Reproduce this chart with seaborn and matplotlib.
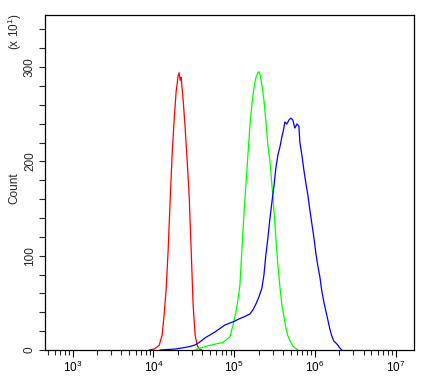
import numpy as np
import pandas as pd
import matplotlib
matplotlib.use("Agg")
import matplotlib.pyplot as plt
import seaborn as sns
from matplotlib.ticker import LogLocator, MultipleLocator, FixedLocator

# ---- data (log10 fluorescence, counts) ----
red_log = [3.947, 4.009, 4.071, 4.108, 4.132, 4.157, 4.182, 4.207, 4.231, 4.256,
           4.281, 4.306, 4.318, 4.331, 4.343, 4.368, 4.392, 4.417, 4.442, 4.467,
           4.491, 4.516, 4.541, 4.566, 4.603]
red_count = [0, 1, 5, 16, 37, 64, 106, 159, 207, 244,
             274, 291, 294, 286, 289, 265, 236, 201, 164, 106,
             48, 16, 5, 1, 0]

green_log = [4.514, 4.576, 4.700, 4.860, 4.947, 4.984, 5.021, 5.046, 5.071, 5.095,
             5.120, 5.145, 5.170, 5.194, 5.219, 5.244, 5.269, 5.293, 5.306, 5.318,
             5.343, 5.368, 5.393, 5.417, 5.442, 5.467, 5.492, 5.517, 5.541, 5.566,
             5.590, 5.615, 5.640, 5.665, 5.690, 5.727, 5.788]
green_count = [0, 2, 5, 8, 14, 26, 40, 53, 69, 106,
               143, 175, 207, 237, 260, 278, 289, 294, 295, 293,
               281, 265, 242, 217, 201, 175, 148, 117, 90, 67,
               48, 36, 23, 15, 10, 4, 0]

blue_log = [4.080, 4.167, 4.266, 4.328, 4.390, 4.452, 4.514, 4.575, 4.637, 4.699,
            4.761, 4.823, 4.885, 4.947, 5.009, 5.071, 5.132, 5.194, 5.231, 5.269,
            5.306, 5.343, 5.368, 5.392, 5.417, 5.442, 5.467, 5.491, 5.516, 5.541,
            5.566, 5.590, 5.615, 5.627, 5.652, 5.677, 5.702, 5.726, 5.751, 5.776,
            5.801, 5.813, 5.838, 5.863, 5.887, 5.912, 5.937, 5.962, 5.986, 6.011,
            6.036, 6.061, 6.085, 6.110, 6.135, 6.160, 6.184, 6.209, 6.234, 6.259,
            6.283, 6.308, 6.333]
blue_count = [0, 0.5, 1, 1.8, 2.7, 3.7, 5.3, 8.5, 12.7, 15.9,
              19.1, 22.8, 26.5, 28.6, 30.7, 33.4, 35.5, 38.2, 42.4, 48.8,
              56.2, 65.7, 79.5, 100.7, 118.7, 138.9, 156.9, 172.8, 192.9, 206.7,
              215.2, 225.7, 235.3, 241.7, 239.6, 243.8, 245.9, 243.8, 235.3, 239.6,
              237.5, 220.5, 206.7, 190.8, 177, 164.3, 148.4, 133.6, 119.8, 102.8,
              89, 77.4, 62.5, 50.9, 41.3, 31.8, 22.3, 14.8, 9.5, 7.4,
              5.3, 2.1, 0]

x_ticks = [1e3, 1e4, 1e5, 1e6, 1e7]
x_tick_labels = [r"$\mathdefault{10^{3}}$", r"$\mathdefault{10^{4}}$", r"$\mathdefault{10^{5}}$",
                 r"$\mathdefault{10^{6}}$", r"$\mathdefault{10^{7}}$"]
y_ticks = [0, 100, 200, 300]
y_tick_labels = ["0", "100", "200", "300"]

series = [("red", red_log, red_count, "#ff0000"),
          ("green", green_log, green_count, "#00ff00"),
          ("blue", blue_log, blue_count, "#0000ff")]

frames = []
for name, xl, yc, _ in series:
    frames.append(pd.DataFrame({"x": np.power(10.0, xl), "count": yc, "series": name}))
df = pd.concat(frames, ignore_index=True)

sns.set_style("ticks")
plt.rcParams["font.family"] = ["Liberation Sans", "DejaVu Sans"]
plt.rcParams["mathtext.fontset"] = "custom"
plt.rcParams["mathtext.rm"] = "Liberation Sans"
plt.rcParams["mathtext.it"] = "Liberation Sans"

fig = plt.figure(figsize=(4.32, 3.80), dpi=100)
ax = fig.add_axes([45/432, 1-350/380, (414-45)/432, (350-15)/380])

sns.lineplot(data=df, x="x", y="count", hue="series", sort=False,
             palette={n: c for n, _, _, c in series}, legend=False,
             linewidth=0.9, estimator=None, ax=ax)

ax.set_xscale("log")
ax.set_xlim(10**2.657, 10**7.2265)
ax.set_ylim(0, 355.2)

ax.xaxis.set_major_locator(FixedLocator(x_ticks))
ax.set_xticklabels(x_tick_labels)
ax.xaxis.set_minor_locator(LogLocator(base=10, subs=np.arange(2, 10)))
ax.xaxis.set_minor_formatter(matplotlib.ticker.NullFormatter())
ax.yaxis.set_major_locator(FixedLocator(y_ticks))
ax.set_yticklabels(y_tick_labels, rotation=90, va="center")
ax.yaxis.set_minor_locator(MultipleLocator(20))

ax.tick_params(axis="x", which="major", length=5, width=0.8, direction="out",
               labelsize=8.5, pad=2, colors="black")
ax.tick_params(axis="x", which="minor", length=3.5, width=0.8, direction="out")
ax.tick_params(axis="y", which="both", length=4.5, width=0.8, direction="out",
               labelsize=8.5, pad=2)

for s in ax.spines.values():
    s.set_visible(True)
    s.set_linewidth(0.9)
    s.set_color("black")

ax.set_xlabel("")
ax.set_ylabel("Count", fontsize=8.5)
ax.yaxis.set_label_coords(-(45-20)/369, (350-188)/335)

fig.text(15/432, 1-32/380, r"(x 10$^{1}$)", rotation=90, fontsize=8.5,
         ha="center", va="center")

fig.savefig("out.png", dpi=100, facecolor="white")
